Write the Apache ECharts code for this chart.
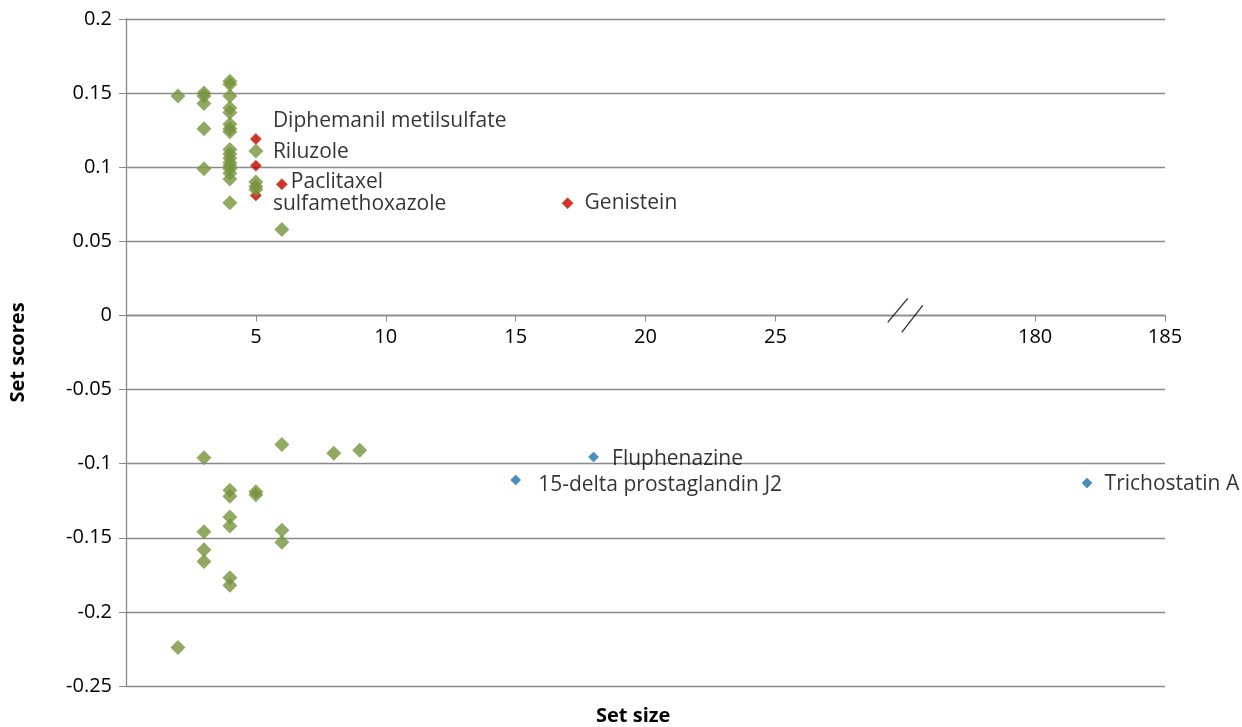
<!DOCTYPE html>
<html>
<head>
<meta charset="utf-8">
<title>Set scores vs set size</title>
<script src="https://cdn.jsdelivr.net/npm/echarts@6/dist/echarts.min.js"></script>
<style>
html, body { margin: 0; padding: 0; background: #fff; }
#main { width: 1242px; height: 727px; }
</style>
</head>
<body>
<div id="main"></div>
<script>
// set size / set score pairs
var otherX = [2, 3, 3, 3, 3, 3,
	4, 4, 4, 4, 4, 4, 4, 4, 4, 4, 4, 4, 4, 4, 4, 4, 4,
	5, 5, 5, 5, 6,
	2, 3, 3, 3, 3,
	4, 4, 4, 4, 4, 4,
	5, 5, 6, 6, 6, 8, 9];
var otherY = [0.148, 0.150, 0.148, 0.143, 0.126, 0.099,
	0.158, 0.156, 0.148, 0.140, 0.137, 0.129, 0.126, 0.124, 0.112, 0.109, 0.106, 0.103, 0.101, 0.099, 0.096, 0.092, 0.076,
	0.111, 0.090, 0.087, 0.085, 0.058,
	-0.224, -0.096, -0.146, -0.158, -0.166,
	-0.118, -0.122, -0.136, -0.142, -0.177, -0.182,
	-0.119, -0.121, -0.087, -0.145, -0.153, -0.093, -0.091];

var upX = [5, 5, 6, 5, 17];
var upY = [0.119, 0.101, 0.0885, 0.081, 0.0757];
var upNames = ['Diphemanil metilsulfate', 'Riluzole', 'Paclitaxel', 'sulfamethoxazole', 'Genistein'];

var downX = [18, 15, 182];
var downY = [-0.0955, -0.111, -0.113];
var downNames = ['Fluphenazine', '15-delta prostaglandin J2', 'Trichostatin A'];

var xTicks = [5, 10, 15, 20, 25, 180, 185];
var yMin = -0.25, yMax = 0.2, yStep = 0.05;

// broken x axis: values past the break are shifted left
var breakAt = 30;
var breakShift = 145;
function pos(v) {
	return v > 100 ? v - breakShift : v;
}

// where each label sits relative to its marker
var labelShift = {
	'Diphemanil metilsulfate': [6, -18],
	'Riluzole': [6, -14],
	'Paclitaxel': [-2, -2],
	'sulfamethoxazole': [6, 9],
	'Genistein': [6, 0],
	'Fluphenazine': [8, 2],
	'15-delta prostaglandin J2': [12, 5],
	'Trichostatin A': [7, 1]
};

var font = 'Open Sans';
var gray = '#8a8a8a';

function pts(xs, ys, names) {
	var r = [];
	for (var i = 0; i < xs.length; i++) {
		var item = { value: [pos(xs[i]), ys[i]] };
		if (names) {
			item.name = names[i];
			item.label = { offset: labelShift[names[i]] };
		}
		r.push(item);
	}
	return r;
}

var tickPos = xTicks.map(pos);

var labelStyle = {
	show: true,
	position: 'right',
	distance: 5,
	formatter: '{b}',
	color: '#000',
	fontFamily: font,
	fontSize: 21
};

var myChart = echarts.init(document.getElementById('main'));
var option = {
	animation: false,
	title: {
		text: 'Set size',
		left: 591,
		top: 701,
		textStyle: { fontFamily: font, fontSize: 20, fontWeight: 'bold', color: '#000' }
	},
	grid: { left: 126, right: 77, top: 19, bottom: 41 },
	xAxis: {
		type: 'value',
		min: 0,
		max: 40,
		interval: 5,
		splitLine: { show: false },
		axisLine: { onZero: false, lineStyle: { color: gray, width: 1.3 } },
		axisTick: { show: true, length: 6, customValues: tickPos, lineStyle: { color: gray } },
		axisLabel: {
			customValues: tickPos,
			margin: 12,
			color: '#000',
			fontFamily: font,
			fontSize: 20,
			formatter: function(v) {
				var i = tickPos.indexOf(v);
				return i === -1 ? '' : String(xTicks[i]);
			}
		}
	},
	yAxis: {
		type: 'value',
		min: yMin,
		max: yMax,
		interval: yStep,
		name: 'Set scores',
		nameLocation: 'middle',
		nameGap: 98,
		nameTextStyle: { fontFamily: font, fontSize: 20, fontWeight: 'bold', color: '#000' },
		axisLine: { show: true, lineStyle: { color: gray, width: 1.3 } },
		axisTick: { show: true, length: 7, lineStyle: { color: gray } },
		axisLabel: { margin: 14, color: '#000', fontFamily: font, fontSize: 20 },
		splitLine: { lineStyle: { color: gray, width: 1.3 } }
	},
	series: [{
		name: 'up',
		type: 'scatter',
		symbol: 'diamond',
		symbolSize: 11,
		itemStyle: { color: '#C00000', borderColor: '#D8501C', borderWidth: 1 },
		label: labelStyle,
		data: pts(upX, upY, upNames)
	}, {
		name: 'other',
		type: 'scatter',
		symbol: 'diamond',
		symbolSize: 15,
		itemStyle: { color: '#77933C' },
		data: pts(otherX, otherY)
	}, {
		name: 'down',
		type: 'scatter',
		symbol: 'diamond',
		symbolSize: 10,
		itemStyle: { color: '#1C6FAE', borderColor: '#4C9CB8', borderWidth: 1 },
		label: labelStyle,
		data: pts(downX, downY, downNames)
	}, {
		name: 'break',
		type: 'scatter',
		silent: true,
		z: 5,
		symbol: 'path://M0 24 L20 0 M14 34 L35 7',
		symbolSize: [35, 34],
		itemStyle: { color: 'none', borderColor: '#000', borderWidth: 1.3 },
		data: [[breakAt, 0]]
	}]
};
myChart.setOption(option);

// move the x axis (line, ticks, labels) up so it crosses at y = 0
var zeroY = myChart.convertToPixel({ gridIndex: 0 }, [0, 0])[1];
var baseY = myChart.convertToPixel({ gridIndex: 0 }, [0, yMin])[1];
myChart.setOption({ xAxis: { offset: zeroY - baseY } });
</script>
</body>
</html>
